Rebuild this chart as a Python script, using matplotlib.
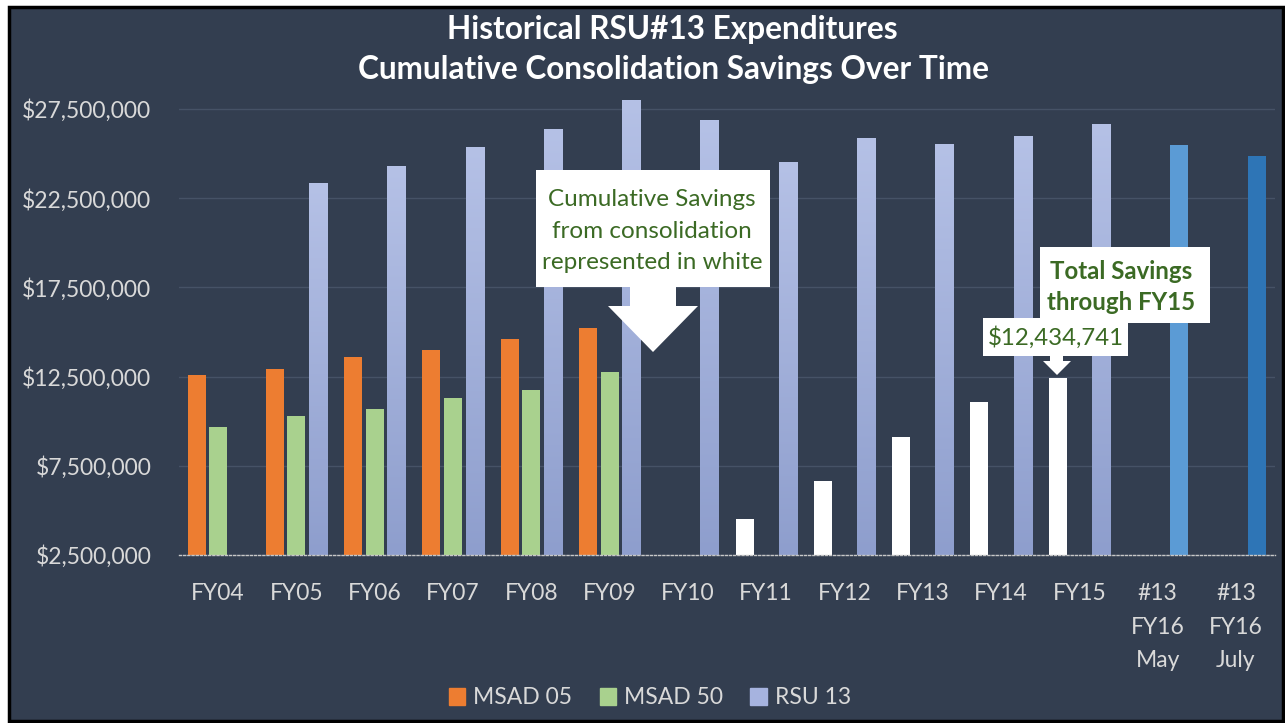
import numpy as np
import matplotlib
matplotlib.use("Agg")
import matplotlib.pyplot as plt
from matplotlib.patches import Rectangle, Polygon
from matplotlib.ticker import FuncFormatter
from matplotlib.colors import LinearSegmentedColormap

# ---------------- data ----------------
categories = ["FY04", "FY05", "FY06", "FY07", "FY08", "FY09", "FY10", "FY11",
              "FY12", "FY13", "FY14", "FY15", "#13\nFY16\nMay", "#13\nFY16\nJuly"]
nan = np.nan
msad05 = [12_600_000, 12_930_000, 13_600_000, 13_990_000, 14_610_000, 15_220_000,
          nan, nan, nan, nan, nan, nan, nan, nan]
msad50 = [9_670_000, 10_290_000, 10_680_000, 11_300_000, 11_750_000, 12_760_000,
          nan, nan, nan, nan, nan, nan, nan, nan]
rsu13 = [nan, 23_350_000, 24_300_000, 25_370_000, 26_380_000, 28_000_000, 26_880_000,
         24_530_000, 25_870_000, 25_540_000, 25_990_000, 26_660_000, 25_480_000, 24_870_000]
savings = [nan, nan, nan, nan, nan, nan, 2_500_000, 4_520_000, 6_650_000, 9_110_000,
           11_080_000, 12_434_741, nan, nan]
series_names = ["MSAD 05", "MSAD 50", "RSU 13"]
title_lines = ["Historical RSU#13 Expenditures", "Cumulative Consolidation Savings Over Time"]
note_text = "Cumulative Savings\nfrom consolidation\nrepresented in white"
total_text = "Total Savings\nthrough FY15"
total_value = 12_434_741

# ---------------- style ----------------
W, H = 1285, 723
BG = "#333e50"
ORANGE = "#ed7d31"
GREEN = "#a9d18e"
RSU_TOP = "#b5c1e6"
RSU_BOT = "#8e9ecd"
MAY = "#5b9bd5"
JULY = "#2e75b6"
TXT = "#d9d9d9"
DKGREEN = "#3b6a24"
FONT = ["Lato", "DejaVu Sans"]
FS = 16.5
plt.rcParams["font.family"] = FONT


def fx(px):
    return px / W


def fy(py):
    return 1 - py / H


fig = plt.figure(figsize=(W / 100, H / 100), dpi=100, facecolor="white")
# navy panel with black border
fig.patches.append(Rectangle((fx(9), fy(721)), (1283 - 9) / W, (721 - 7) / H,
                             transform=fig.transFigure, facecolor=BG,
                             edgecolor="black", linewidth=2.5, zorder=-5))

y0, y1 = 2_500_000, 28_500_000
px_per = 446 / 25_000_000
ax_bottom_px = 555
ax_top_px = ax_bottom_px - (y1 - y0) * px_per
ax = fig.add_axes([fx(179), fy(ax_bottom_px), (1275 - 179) / W,
                   (ax_bottom_px - ax_top_px) / H])
ax.set_facecolor("none")

x = np.arange(len(categories))
bw = 0.23
off = 0.275

ax.bar(x - off, msad05, bw, color=ORANGE, zorder=3)
ax.bar(x, msad50, bw, color=GREEN, zorder=3)
ax.bar(x - off, savings, bw, color="white", zorder=3)

# RSU 13 bars with vertical gradient (last two solid blues)
rsu_bars = ax.bar(x + off, rsu13, bw, color="none", zorder=3)
grad = np.linspace(0, 1, 256).reshape(-1, 1)
cmap = LinearSegmentedColormap.from_list("rsu", [RSU_BOT, RSU_TOP])
for i, b in enumerate(rsu_bars):
    h = rsu13[i]
    if np.isnan(h):
        continue
    if i == len(categories) - 2:
        b.set_facecolor(MAY)
        continue
    if i == len(categories) - 1:
        b.set_facecolor(JULY)
        continue
    xl = b.get_x()
    im = ax.imshow(grad, extent=(xl, xl + bw, y0, h), origin="lower", cmap=cmap,
                   aspect="auto", zorder=3, interpolation="bilinear")
    im.set_clip_path(b)
ax.set_xlim(-0.5, len(categories) - 0.5)
ax.set_ylim(y0, y1)

# grid & axes
ax.set_yticks(np.arange(2_500_000, 28_000_000, 5_000_000))
ax.yaxis.grid(True, color="#465266", linewidth=1.0, zorder=0)
ax.set_axisbelow(True)
for s in ["top", "right", "left"]:
    ax.spines[s].set_visible(False)
ax.spines["bottom"].set_color("#c8c8c8")
ax.spines["bottom"].set_linestyle((0, (1.5, 1.5)))
ax.spines["bottom"].set_linewidth(1.0)
ax.spines["bottom"].set_zorder(4)
ax.yaxis.set_major_formatter(FuncFormatter(lambda v, p: f"${v:,.0f}"))
ax.tick_params(axis="y", length=0, pad=20, labelsize=FS, labelcolor=TXT)
ax.set_xticks(x)
ax.set_xticklabels(categories, linespacing=1.75)
ax.tick_params(axis="x", length=0, pad=20, labelsize=FS, labelcolor=TXT)

# title
fig.text(fx(672), fy(30), title_lines[0], ha="center", va="center",
         fontsize=22.7, fontweight="bold", color="white")
fig.text(fx(673), fy(69), title_lines[1], ha="center", va="center",
         fontsize=22.7, fontweight="bold", color="white")

# callout 1
fig.patches.append(Rectangle((fx(536), fy(287)), (770 - 536) / W, (287 - 170) / H,
                             transform=fig.transFigure, facecolor="white",
                             edgecolor="none", zorder=5))
fig.patches.append(Polygon([(fx(630), fy(286)), (fx(676), fy(286)), (fx(676), fy(306)),
                            (fx(698), fy(306)), (fx(653), fy(352)), (fx(608), fy(306)),
                            (fx(630), fy(306))], closed=True, transform=fig.transFigure,
                           facecolor="white", edgecolor="none", zorder=5))
fig.text(fx(652), fy(231), note_text, ha="center", va="center", fontsize=17.5,
         color=DKGREEN, linespacing=1.62, zorder=6)

# callout 2
fig.patches.append(Rectangle((fx(1040), fy(323)), (1210 - 1040) / W, (323 - 247) / H,
                             transform=fig.transFigure, facecolor="white",
                             edgecolor="none", zorder=5))
fig.text(fx(1121), fy(287), total_text, ha="center", va="center", fontsize=17.3,
         fontweight="bold", color=DKGREEN, linespacing=1.42, zorder=6)
fig.patches.append(Rectangle((fx(983), fy(356)), (1128 - 983) / W, (356 - 318) / H,
                             transform=fig.transFigure, facecolor="white",
                             edgecolor="none", zorder=5))
fig.text(fx(1056), fy(338), f"${total_value:,.0f}", ha="center", va="center",
         fontsize=17.3, color=DKGREEN, zorder=6)
fig.patches.append(Polygon([(fx(1050), fy(355)), (fx(1063), fy(355)), (fx(1063), fy(361)),
                            (fx(1071), fy(361)), (fx(1057), fy(375)), (fx(1043), fy(361)),
                            (fx(1050), fy(361))], closed=True, transform=fig.transFigure,
                           facecolor="white", edgecolor="none", zorder=5))

# legend
handles = [Rectangle((0, 0), 1, 1, color=ORANGE), Rectangle((0, 0), 1, 1, color=GREEN),
           Rectangle((0, 0), 1, 1, color="#a6b3df")]
leg = fig.legend(handles, series_names, loc="center", bbox_to_anchor=(fx(650), fy(698)),
                 ncol=3, frameon=False, fontsize=FS, labelcolor=TXT,
                 handlelength=0.7, handleheight=0.7, handletextpad=0.35,
                 columnspacing=1.2)

fig.savefig("out.png", dpi=100, facecolor="white")
